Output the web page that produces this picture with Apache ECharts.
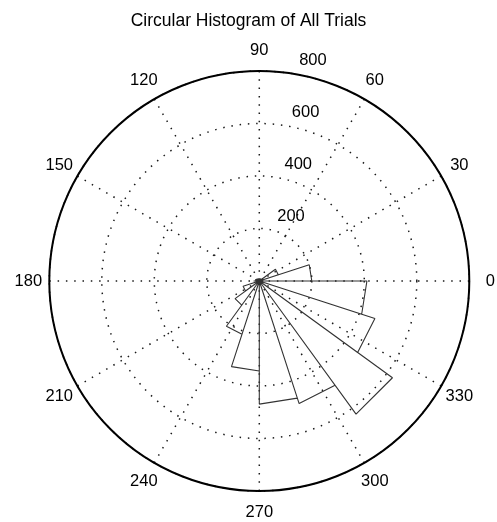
<!DOCTYPE html>
<html>
<head>
<meta charset="utf-8">
<script src="https://cdn.jsdelivr.net/npm/echarts@6/dist/echarts.min.js"></script>
<style>
html,body{margin:0;padding:0;background:#fff;}
#chart{width:497px;height:522px;}
</style>
</head>
<body>
<div id="chart"></div>
<script>
// bin edges (degrees) and counts per bin (rose histogram, 20 bins)
var binEdges = [0,18,36,54,72,90,108,126,144,162,180,198,216,234,252,270,288,306,324,342,360];
var binCounts = [200,76,16,12,10,9,10,12,14,17,22,65,114,213,343,469,491,627,463,410];
var angleTicks = [0,30,60,90,120,150,180,210,240,270,300,330];
var radiusTicks = [200,400,600,800];
var titleText = 'Circular Histogram of All Trials';

var rMax = 800;
// rose outline: 0 -> r at edge i -> r at edge i+1 -> 0
var rosePts = [];
for (var i = 0; i < binCounts.length; i++) {
  rosePts.push([0, binEdges[i]]);
  rosePts.push([binCounts[i], binEdges[i]]);
  rosePts.push([binCounts[i], binEdges[i+1]]);
  rosePts.push([0, binEdges[i+1]]);
}
var angleLabelPts = angleTicks.map(function(a){ return [rMax*1.1, a, a]; });
var radiusLabelPts = radiusTicks.map(function(v){ return [v + 10, 82, v]; });

var font = 'Liberation Sans, Arial, sans-serif';
var dotted = {color:'#1a1a1a', width:1.5, type:[1.5,6.8]};

var chart = echarts.init(document.getElementById('chart'));
chart.setOption({
  animation: false,
  backgroundColor: '#fff',
  title: {
    text: titleText, left: 'center', top: 7,
    textStyle: {fontFamily: font, fontSize: 17.5, fontWeight: 'normal', color: '#000'}
  },
  polar: {center: [259.3, 281], radius: 210},
  angleAxis: {
    type: 'value', min: 0, max: 360, interval: 30, startAngle: 0, clockwise: false,
    axisLine: {show: true, lineStyle: {color: '#000', width: 2}},
    axisTick: {show: false}, axisLabel: {show: false},
    splitLine: {show: true, lineStyle: dotted}
  },
  radiusAxis: {
    type: 'value', min: 0, max: rMax, interval: 200,
    axisLine: {show: false}, axisTick: {show: false}, axisLabel: {show: false},
    splitLine: {show: true, lineStyle: dotted}
  },
  series: [
    {
      type: 'line', coordinateSystem: 'polar', data: rosePts, clip: false,
      showSymbol: false, symbol: 'none',
      lineStyle: {color: '#333', width: 1.1}, z: 5
    },
    {
      type: 'scatter', coordinateSystem: 'polar', data: angleLabelPts, clip: false,
      symbolSize: 1, itemStyle: {color: 'rgba(0,0,0,0)', opacity: 1},
      label: {show: true, position: 'inside', formatter: function(p){ return String(p.data[2]); },
        fontFamily: font, fontSize: 16.5, color: '#000', opacity: 1}
    },
    {
      type: 'scatter', coordinateSystem: 'polar', data: radiusLabelPts, clip: false,
      symbolSize: 1, itemStyle: {color: 'rgba(0,0,0,0)', opacity: 1},
      label: {show: true, position: 'inside', offset: [24, -10], formatter: function(p){ return String(p.data[2]); },
        fontFamily: font, fontSize: 16.5, color: '#000', opacity: 1}
    }
  ]
});
</script>
</body>
</html>
